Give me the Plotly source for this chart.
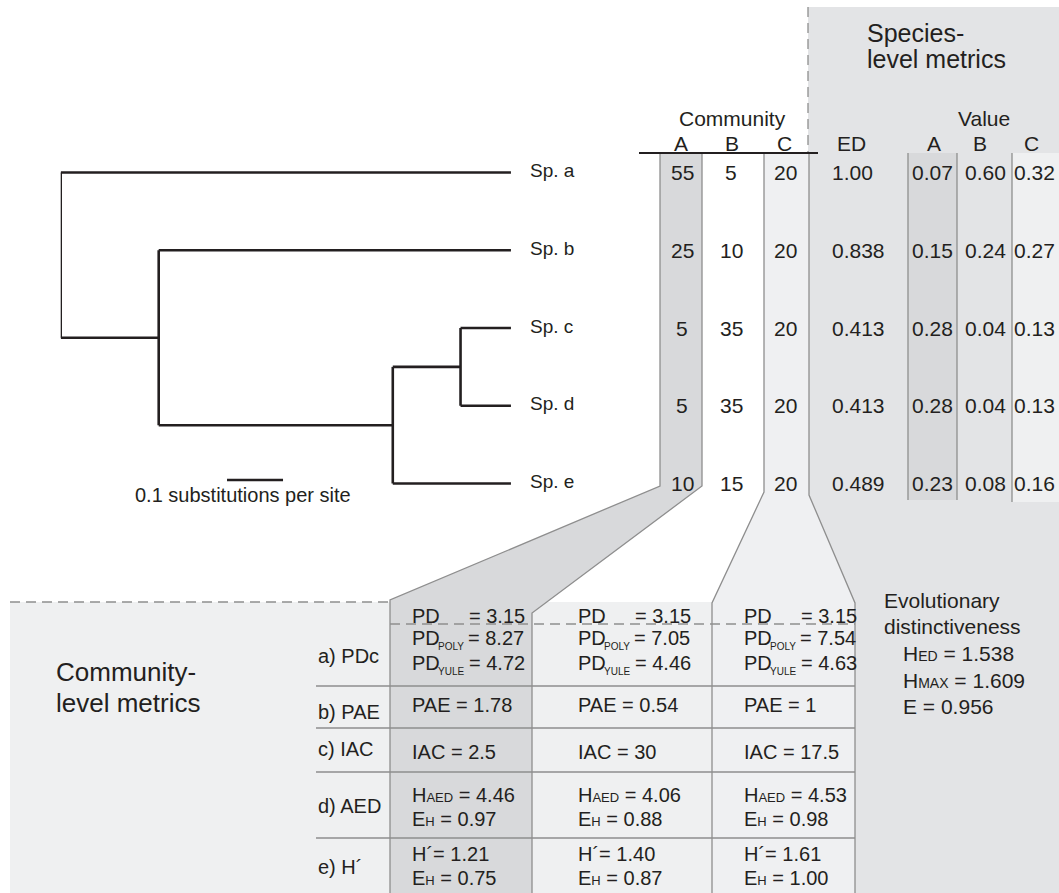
import plotly.graph_objects as go

W, H = 1059, 893

# ---------------- data ----------------
species = ["Sp. a", "Sp. b", "Sp. c", "Sp. d", "Sp. e"]
communities = ["A", "B", "C"]
abund_A = [55, 25, 5, 5, 10]
abund_B = [5, 10, 35, 35, 15]
abund_C = [20, 20, 20, 20, 20]
ed_values = [1.00, 0.838, 0.413, 0.413, 0.489]
value_A = [0.07, 0.15, 0.28, 0.28, 0.23]
value_B = [0.60, 0.24, 0.04, 0.04, 0.08]
value_C = [0.32, 0.27, 0.13, 0.13, 0.16]

# phylogeny (depths in substitutions per site)
tip_depth = 0.804
node_depths = {"root": 0.0, "n1": 0.175, "n2": 0.593, "n3": 0.714}
tree_children = {"root": ["Sp. a", "n1"], "n1": ["Sp. b", "n2"],
                 "n2": ["n3", "Sp. e"], "n3": ["Sp. c", "Sp. d"]}
scale_bar_length = 0.1
scale_bar_label = "0.1 substitutions per site"

# community-level metrics (communities A, B, C)
row_labels = ["a) PDc", "b) PAE", "c) IAC", "d) AED", "e) H´"]
pd_values = [3.15, 3.15, 3.15]
pd_poly = [8.27, 7.05, 7.54]
pd_yule = [4.72, 4.46, 4.63]
pae_values = [1.78, 0.54, 1]
iac_values = [2.5, 30, 17.5]
h_aed = [4.46, 4.06, 4.53]
eh_aed = [0.97, 0.88, 0.98]
h_shannon = [1.21, 1.40, 1.61]
eh_shannon = [0.75, 0.87, 1.00]
h_ed, h_max, e_ed = 1.538, 1.609, 0.956

# ---------------- style ----------------
FONT = "Liberation Sans, Arial, sans-serif"
INK = "#231f20"
GRAY_BG = "#e3e4e6"
DARK = "#d8d9db"
LIGHT = "#eff0f1"
LINE_GRAY = "#8e8e8e"
DASH = "10px,6px"

fig = go.Figure()

# ---------------- tree ----------------
row_of = {s: i for i, s in enumerate(species)}


def node_y(n):
    if n in row_of:
        return row_of[n]
    ys = [node_y(c) for c in tree_children[n]]
    return (min(ys) + max(ys)) / 2


def node_x(n):
    return tip_depth if n in row_of else node_depths[n]


tx, ty = [], []
for parent, kids in tree_children.items():
    px = node_x(parent)
    kys = [node_y(k) for k in kids]
    tx += [px, px, None]
    ty += [min(kys), max(kys), None]
    for k in kids:
        tx += [px, node_x(k), None]
        ty += [node_y(k), node_y(k), None]

fig.add_trace(go.Scatter(x=tx, y=ty, xaxis="x2", yaxis="y2", mode="lines",
                         line=dict(color=INK, width=2.6), hoverinfo="skip",
                         showlegend=False, cliponaxis=False))
# invisible trace for the pixel frame
fig.add_trace(go.Scatter(x=[0], y=[0], mode="markers", marker=dict(opacity=0),
                         hoverinfo="skip", showlegend=False))

shapes = []


def path(d, fill, lw=0, lc=LINE_GRAY):
    shapes.append(dict(type="path", path=d, xref="x", yref="y", fillcolor=fill,
                       line=dict(width=lw, color=lc), layer="below"))


def seg(x0, y0, x1, y1, color=LINE_GRAY, w=1.3, dash=None, xref="x", yref="y"):
    shapes.append(dict(type="line", x0=x0, y0=y0, x1=x1, y1=y1, xref=xref, yref=yref,
                       line=dict(color=color, width=w, dash=dash), layer="above"))


# species-level background
path("M 808,7 L 1059,7 L 1059,893 L 855,893 L 855,603 L 809,495 L 809,153 L 808,153 Z", GRAY_BG)
shapes.append(dict(type="rect", x0=908, x1=957, y0=153, y1=500, xref="x", yref="y",
                   fillcolor=DARK, line=dict(width=0), layer="below"))
shapes.append(dict(type="rect", x0=1012, x1=1059, y0=153, y1=502, xref="x", yref="y",
                   fillcolor=LIGHT, line=dict(width=0), layer="below"))
# community-level background
shapes.append(dict(type="rect", x0=10, x1=855, y0=602, y1=893, xref="x", yref="y",
                   fillcolor=LIGHT, line=dict(width=0), layer="below"))
# community A and C bands widening into the table
path("M 660,153 L 702,153 L 702,486 L 532,613 L 532,895 L 390,895 L 390,600 L 660,486 Z",
     DARK, 1.3)
path("M 764,153 L 809,153 L 809,495 L 855,603 L 855,895 L 712,895 L 712,603 L 764,492 Z",
     "#eff0f2", 1.3)

seg(908, 153, 908, 500)
seg(957, 153, 957, 500)
seg(1012, 153, 1012, 502)
seg(808, 7, 808, 153, dash=DASH)
seg(639, 153, 818, 153, color=INK, w=1.8)
seg(10, 602, 390, 602, dash=DASH)
seg(390, 624, 855, 624, dash=DASH)
for yy in [686, 728, 772, 838]:
    seg(316, yy, 855, yy, w=1.5)

# scale bar (on the tree's substitution axis)
scale_bar_start = 0.297
seg(scale_bar_start, 480, scale_bar_start + scale_bar_length, 480, color=INK, w=2.6,
    xref="x2", yref="y")

annotations = []


def ann(x, y, text, size=20, xanchor="center", yref="y", xref="x", yshift=0):
    annotations.append(dict(x=x, y=y, text=text, xref=xref, yref=yref, showarrow=False,
                            xanchor=xanchor, yanchor="middle", yshift=yshift,
                            font=dict(family=FONT, size=size, color=INK)))


ann(133, 495, scale_bar_label, 20, "left")

# species labels
for i, s in enumerate(species):
    ann(528, i, s, 19, "left", yref="y2", yshift=2)

# headers
ann(732, 118.5, "Community", 21)
for cx, c in zip([681, 732, 784.5], communities):
    ann(cx, 143.5, c, 21)
ann(851, 143.5, "ED", 21)
ann(983.5, 118.5, "Value", 21)
for cx, c in zip([934, 980, 1031.5], communities):
    ann(cx, 143.5, c, 21)
ann(865, 33, "Species-", 25, "left")
ann(865, 59, "level metrics", 25, "left")

# species table
for i in range(len(species)):
    ann(682, i, str(abund_A[i]), 21, yref="y2")
    ann(731, i, str(abund_B[i]), 21, yref="y2")
    ann(785, i, str(abund_C[i]), 21, yref="y2")
    v = ed_values[i]
    ann(830, i, f"{v:.2f}" if v == 1 else f"{v:.3f}", 21, "left", yref="y2")
    ann(955, i, f"{value_A[i]:.2f}", 21, "right", yref="y2")
    ann(1008, i, f"{value_B[i]:.2f}", 21, "right", yref="y2")
    ann(1057, i, f"{value_C[i]:.2f}", 21, "right", yref="y2")

# community-level table
ann(54, 671.7, "Community-", 26, "left")
ann(54, 702.7, "level metrics", 26, "left")
for yy, lab in zip([656, 712, 749, 806, 867], row_labels):
    ann(316, yy, lab, 20, "left")

SM = "<span style='font-size:13px'>{}</span>"
for k, cx in enumerate([410, 576, 742]):
    # PD rows: symbol, small subscript, value (subscripts drawn as their own small text)
    ann(cx, 616, "PD", 20, "left")
    ann(cx + 57, 616, f"= {pd_values[k]:.2f}", 20, "left")
    ann(cx, 638, "PD", 20, "left")
    ann(cx + 26, 646, "POLY", 10, "left")
    ann(cx + 56, 638, f"= {pd_poly[k]:.2f}", 20, "left")
    ann(cx, 663, "PD", 20, "left")
    ann(cx + 26, 671, "YULE", 10, "left")
    ann(cx + 57, 663, f"= {pd_yule[k]:.2f}", 20, "left")
    ann(cx, 705, f"PAE = {pae_values[k]:g}", 20, "left")
    ann(cx, 752, f"IAC = {iac_values[k]:g}", 20, "left")
    ann(cx, 795, "H" + SM.format("AED") + f" = {h_aed[k]:.2f}", 20, "left")
    ann(cx, 819, "E" + SM.format("H") + f" = {eh_aed[k]:.2f}", 20, "left")
    ann(cx, 854, f"H´= {h_shannon[k]:.2f}", 20, "left")
    ann(cx, 878, "E" + SM.format("H") + f" = {eh_shannon[k]:.2f}", 20, "left")

# evolutionary distinctiveness summary
SM2 = "<span style='font-size:14px'>{}</span>"
ann(882, 600, "Evolutionary", 21, "left")
ann(882, 626, "distinctiveness", 21, "left")
ann(901, 653, "H" + SM2.format("ED") + f" = {h_ed:.3f}", 21, "left")
ann(901, 680, "H" + SM2.format("MAX") + f" = {h_max:.3f}", 21, "left")
ann(901, 706.5, f"E = {e_ed:.3f}", 21, "left")

row_top, row_step = 172.5, 77.75
y2_lo = 1 - (row_top + 4.5 * row_step) / H
y2_hi = 1 - (row_top - 0.5 * row_step) / H
tree_x0, px_per_unit = 60.7, 560.0

hidden = dict(visible=False, showgrid=False, zeroline=False, fixedrange=True)
fig.update_layout(
    width=W, height=H, margin=dict(l=0, r=0, t=0, b=0),
    paper_bgcolor="white", plot_bgcolor="rgba(0,0,0,0)",
    xaxis=dict(range=[0, W], domain=[0, 1], anchor="y", **hidden),
    yaxis=dict(range=[H, 0], domain=[0, 1], anchor="x", **hidden),
    xaxis2=dict(range=[0, 1], domain=[tree_x0 / W, (tree_x0 + px_per_unit) / W],
                anchor="y2", **hidden),
    yaxis2=dict(range=[4.5, -0.5], domain=[y2_lo, y2_hi], anchor="x2", **hidden),
    shapes=shapes, annotations=annotations, showlegend=False, hovermode=False,
)

fig.write_html("out.html", config={"displayModeBar": False},
               post_script="document.body.style.margin='0';"
                           "document.body.style.overflow='hidden';")
